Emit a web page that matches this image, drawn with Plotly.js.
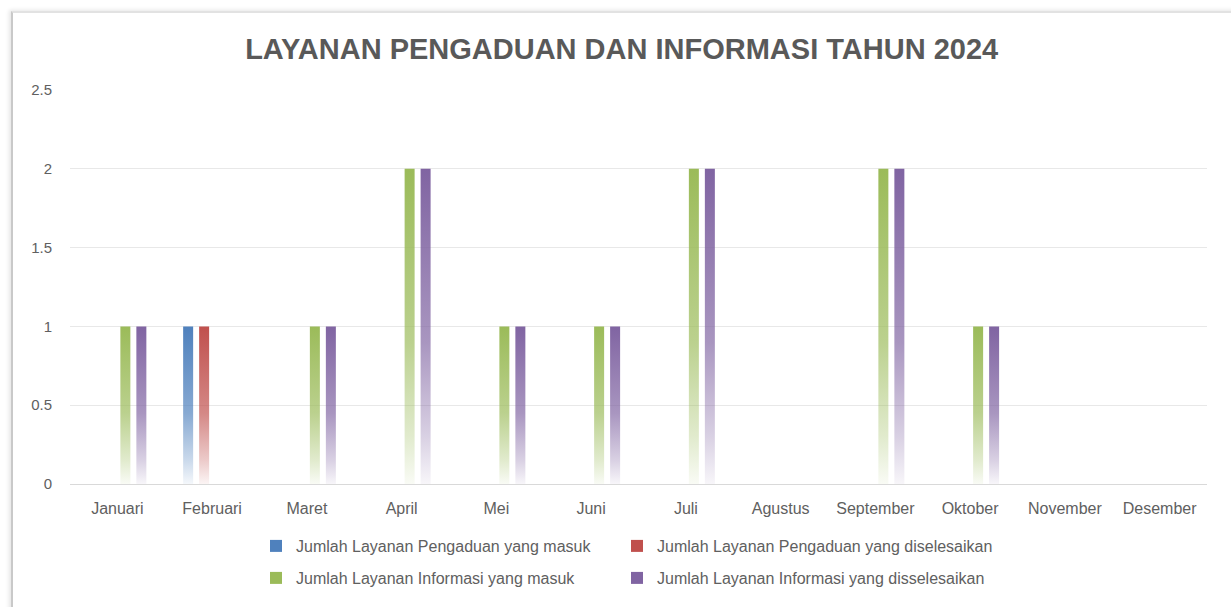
<!DOCTYPE html>
<html>
<head>
<meta charset="utf-8">
<script src="https://cdn.plot.ly/plotly-3.0.1.min.js"></script>
<style>
  html, body { margin: 0; padding: 0; background: #ffffff; }
  #frame { position: absolute; left: 11px; top: 11px; width: 1300px; height: 700px;
           border-left: 2px solid #c9c9c9; border-top: 2px solid #e2e2e2;
           box-shadow: -2px -1px 4px rgba(0,0,0,0.10); background: #fff; }
  #chart { position: absolute; left: 0; top: 0; width: 1231px; height: 607px; }
</style>
</head>
<body>
<div id="frame"></div>
<div id="chart"></div>
<script>
const months = ["Januari","Februari","Maret","April","Mei","Juni","Juli","Agustus","September","Oktober","November","Desember"];
const pengaduanMasuk        = [0,1,0,0,0,0,0,0,0,0,0,0];
const pengaduanDiselesaikan = [0,1,0,0,0,0,0,0,0,0,0,0];
const informasiMasuk        = [1,0,1,2,1,1,2,0,2,1,0,0];
const informasiDiselesaikan = [1,0,1,2,1,1,2,0,2,1,0,0];
const seriesNames = [
  "Jumlah Layanan Pengaduan yang masuk",
  "Jumlah Layanan Pengaduan yang diselesaikan",
  "Jumlah Layanan Informasi yang masuk",
  "Jumlah Layanan Informasi yang disselesaikan"
];
const seriesValues = [pengaduanMasuk, pengaduanDiselesaikan, informasiMasuk, informasiDiselesaikan];
const seriesColors = ["#4F81BD", "#C0504D", "#9BBB59", "#8064A2"];
const seriesLegend = ["legend", "legend2", "legend3", "legend4"];

const traces = seriesValues.map((vals, i) => ({
  type: "bar",
  name: seriesNames[i],
  x: months,
  y: vals,
  marker: { color: seriesColors[i], line: { width: 0 } },
  legend: seriesLegend[i],
  hoverinfo: "x+y+name"
}));

const font = { family: "Liberation Sans, Arial, sans-serif", color: "#606060" };

function legendAt(xpx, ypx) {
  return {
    orientation: "h", xref: "container", yref: "container",
    x: xpx / 1231, xanchor: "left", y: 1 - ypx / 607, yanchor: "middle",
    font: { size: 16, color: "#606060" }, bgcolor: "rgba(0,0,0,0)"
  };
}

const layout = {
  width: 1231, height: 607,
  paper_bgcolor: "rgba(0,0,0,0)", plot_bgcolor: "rgba(0,0,0,0)",
  margin: { l: 70, r: 24, t: 90, b: 123 },
  font: font,
  title: {
    text: "<b>LAYANAN PENGADUAN DAN INFORMASI TAHUN 2024</b>",
    font: { family: "Liberation Sans, Arial, sans-serif", size: 29, color: "#595959" },
    xref: "container", x: 0.505, xanchor: "center",
    yref: "container", y: 1 - 49/607, yanchor: "middle"
  },
  barmode: "group",
  bargap: 0.325,
  bargroupgap: 0.375,
  xaxis: {
    type: "category",
    showgrid: false, showline: true, linecolor: "#d9d9d9", linewidth: 1,
    ticks: "", ticklabelstandoff: 10,
    tickfont: { size: 16, color: "#606060" }
  },
  yaxis: {
    range: [0, 2.5], dtick: 0.5, tick0: 0,
    showgrid: true, gridcolor: "#e8e8e8", gridwidth: 1,
    zeroline: true, zerolinecolor: "#d9d9d9", zerolinewidth: 1,
    showline: false, ticks: "", ticklabelstandoff: 17,
    tickfont: { size: 15, color: "#606060" }
  },
  legend:  legendAt(256, 546),
  legend2: legendAt(617, 546),
  legend3: legendAt(256, 578),
  legend4: legendAt(617, 578),
  showlegend: true
};

function applyGradients(gd) {
  const svg = gd.querySelector("svg.main-svg");
  if (!svg) return;
  const NS = "http://www.w3.org/2000/svg";
  let defs = svg.querySelector("defs");
  if (!defs) { defs = document.createElementNS(NS, "defs"); svg.insertBefore(defs, svg.firstChild); }
  seriesColors.forEach((c, i) => {
    const id = "barGrad" + i;
    if (document.getElementById(id)) return;
    const g = document.createElementNS(NS, "linearGradient");
    g.setAttribute("id", id);
    g.setAttribute("x1", "0"); g.setAttribute("y1", "0");
    g.setAttribute("x2", "0"); g.setAttribute("y2", "1");
    [[0, 1], [0.55, 0.68], [0.85, 0.3], [1, 0.06]].forEach(([o, a]) => {
      const s = document.createElementNS(NS, "stop");
      s.setAttribute("offset", o);
      s.setAttribute("stop-color", c);
      s.setAttribute("stop-opacity", a);
      g.appendChild(s);
    });
    defs.appendChild(g);
  });
  gd.querySelectorAll(".barlayer .trace").forEach((tg, i) => {
    tg.querySelectorAll(".point path").forEach(p => {
      p.style.fill = "url(#barGrad" + i + ")";
    });
  });
}

Plotly.newPlot("chart", traces, layout, { displayModeBar: false, responsive: false })
  .then(gd => applyGradients(gd));
</script>
</body>
</html>
